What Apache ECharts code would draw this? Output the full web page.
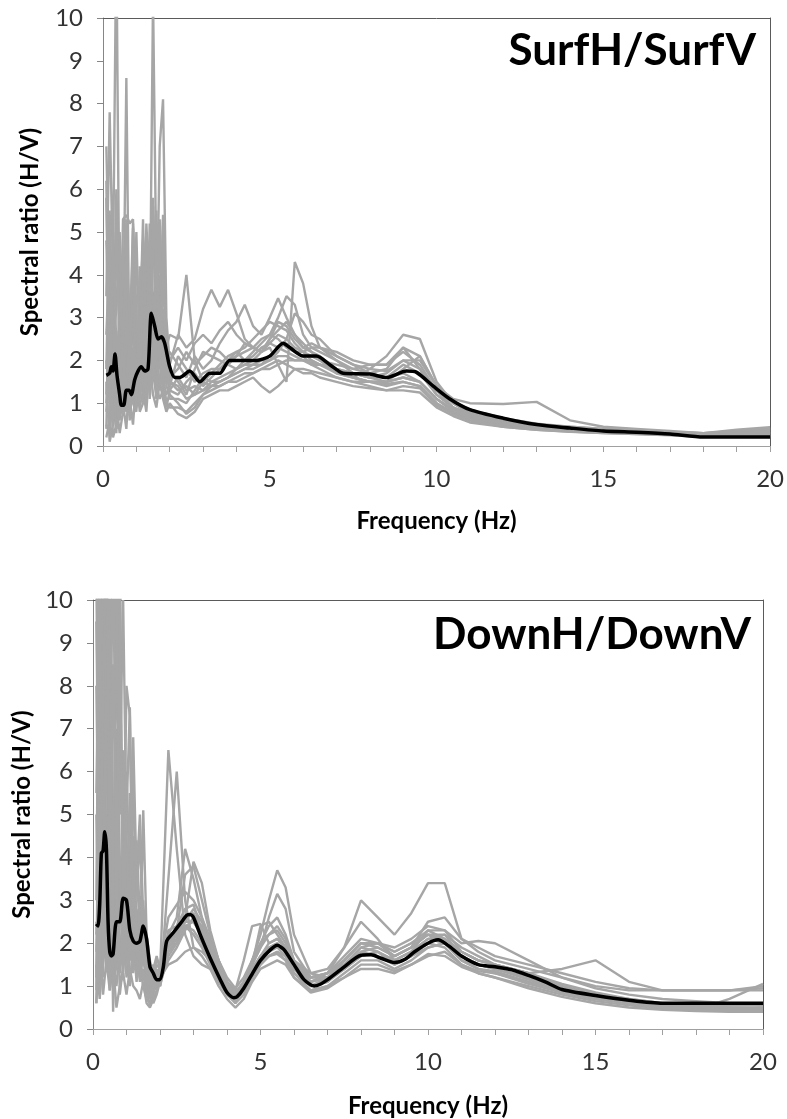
<!DOCTYPE html>
<html><head><meta charset="utf-8">
<script src="https://cdn.jsdelivr.net/npm/echarts@6.0.0/dist/echarts.min.js"></script>
<style>html,body{margin:0;padding:0;background:#fff}#c{width:787px;height:1119px}</style>
</head><body><div id="c"></div>
<script>
// ---------- axis / labels ----------
const panelTitles = ['SurfH/SurfV', 'DownH/DownV'];
const xAxisTitle = 'Frequency (Hz)';
const yAxisTitle = 'Spectral ratio (H/V)';
const xLabelValues = [0, 5, 10, 15, 20];

// ---------- top panel: SurfH/SurfV ----------
const surfFreqs = [0.1,0.2,0.3,0.4,0.5,0.6,0.7,0.8,0.9,1.0,1.1,1.2,1.3,1.4,1.5,1.6,1.7,1.8,1.9,2.0,
  2.25,2.5,2.75,3.0,3.25,3.5,3.75,4.0,4.25,4.5,4.75,5.0,5.25,5.5,5.75,6.0,6.25,6.5,
  7.0,7.5,8.0,8.5,9.0,9.5,10,10.5,11,12,13,14,15,16,17,18,19,20];
const surfRun01 = [3.5,7.8,4.0,12,2.1,3.0,1.8,2.5,1.6,2.2,3.1,1.9,2.7,4.5,2.0,2.8,3.5,1.9,2.4,1.6, 1.8,2.2,1.9,2.1,2.3,2.2,2.0,2.1,2.4,2.3,2.2,2.3,1.9,1.5,4.3,3.8,2.8,2.3, 2.1,1.9,1.8,1.75,2.0,1.8,1.3,0.9,0.75, 0.6,0.5,0.42,0.38,0.33,0.3,0.27,0.3,0.35];
const surfRun02 = [1.2,2.5,4.0,1.5,0.6,2.2,8.6,1.4,2.0,1.1,1.7,2.6,1.5,3.0,5.8,2.2,1.8,3.2,1.4,1.2, 1.0,0.75,0.9,1.2,1.4,1.5,1.6,1.8,1.9,2.0,2.2,2.5,2.7,2.9,2.6,2.4,2.2,2.0, 1.7,1.6,1.5,1.5,1.6,1.5,1.1,0.8,0.65, 0.5,0.42,0.36,0.33,0.3,0.27,0.24,0.22,0.22];
const surfRun03 = [0.5,0.3,2.0,6.0,3.5,1.2,0.8,1.9,2.8,1.3,2.2,1.5,3.8,2.5,10.5,4.0,2.1,1.6,2.3,2.6, 2.5,4.0,2.0,1.5,1.7,1.9,2.1,2.2,2.0,2.1,2.3,2.4,2.3,2.2,2.1,2.0,1.95,1.9, 1.8,1.6,1.5,1.4,1.5,1.4,1.0,0.75,0.6, 0.48,0.4,0.35,0.32,0.3,0.28,0.25,0.24,0.25];
const surfRun04 = [2.0,1.1,0.9,1.3,1.6,5.3,5.4,5.2,5.3,2.0,1.2,1.8,2.4,1.9,3.2,2.5,7.0,8.1,3.0,1.9, 2.6,2.3,2.5,3.2,3.65,3.25,3.65,3.1,2.5,2.3,2.2,2.4,2.6,2.5,2.3,2.2,2.1,2.0, 1.9,1.8,1.9,1.9,2.2,1.9,1.3,1.0,0.8, 0.62,0.5,0.45,0.4,0.36,0.33,0.3,0.33,0.38];
const surfRun05 = [4.8,2.2,1.0,0.4,1.5,2.8,1.2,0.9,3.6,1.8,1.1,2.3,1.4,4.8,2.1,1.5,2.0,5.3,2.1,1.5, 1.3,1.4,1.2,1.3,1.5,1.6,1.7,1.8,2.0,2.2,2.4,2.6,3.0,3.5,3.3,2.6,2.3,2.2, 2.0,1.7,1.6,1.7,2.0,2.0,1.4,1.1,1.0, 0.98,1.03,0.6,0.45,0.4,0.35,0.3,0.35,0.42];
const surfRun06 = [0.2,0.6,3.1,1.0,0.3,0.8,2.6,1.1,0.5,1.6,0.9,1.3,0.8,2.0,1.2,0.9,1.5,1.1,0.8,1.0, 0.75,0.65,0.8,1.1,1.2,1.3,1.3,1.4,1.5,1.6,1.4,1.25,1.4,1.6,1.8,1.8,1.75,1.7, 1.6,1.5,1.4,1.3,1.3,1.25,0.9,0.7,0.55, 0.45,0.38,0.33,0.3,0.28,0.26,0.22,0.22,0.22];
const surfRun07 = [7.0,3.5,1.5,2.7,1.2,4.6,1.8,2.4,5.2,1.5,3.0,4.8,2.1,1.6,5.6,2.3,1.3,2.2,1.8,2.2, 1.9,1.6,2.1,1.8,2.0,2.4,2.7,2.9,3.3,2.8,2.6,3.0,3.45,3.0,2.6,2.3,2.2,2.1, 1.8,1.7,1.6,1.6,1.9,1.7,1.2,0.9,0.7, 0.55,0.45,0.38,0.34,0.3,0.28,0.25,0.28,0.3];
const surfRun08 = [1.5,0.1,0.5,2.2,1.0,0.7,1.4,3.4,1.0,0.8,1.9,1.1,1.7,1.3,2.6,1.4,1.1,1.3,0.9,1.3, 1.6,1.3,1.4,1.3,1.4,1.5,1.6,1.7,1.8,1.9,1.9,2.0,2.1,2.1,2.0,2.0,1.9,1.9, 1.8,1.6,1.8,2.1,2.6,2.5,1.5,1.0,0.75, 0.55,0.45,0.4,0.35,0.32,0.3,0.27,0.3,0.32];
const surfRun09 = [0.8,1.9,0.2,0.5,3.8,1.4,2.0,0.6,1.5,2.7,1.4,2.0,4.6,1.5,1.9,3.4,2.6,1.5,1.2,1.4, 2.1,1.8,1.5,1.7,1.8,1.8,1.9,2.1,2.2,2.3,2.5,2.6,2.5,2.3,2.2,2.2,2.3,2.3, 2.0,1.8,1.7,1.6,1.7,1.5,1.1,0.85,0.7, 0.5,0.42,0.37,0.34,0.31,0.28,0.24,0.25,0.27];
const surfRun10 = [5.8,1.0,1.3,0.3,2.5,1.0,0.4,1.7,1.2,1.4,2.5,5.3,1.8,2.3,1.7,1.2,4.0,2.4,1.6,1.8, 1.5,1.2,1.8,2.2,2.1,2.0,1.9,1.8,1.9,1.9,2.0,2.0,2.2,2.5,3.1,2.9,2.6,2.5, 2.1,1.9,1.7,1.8,2.3,1.8,1.2,0.9,0.72, 0.58,0.48,0.4,0.36,0.33,0.3,0.27,0.28,0.3];
const surfRun11 = [2.6,4.5,0.7,1.8,0.9,3.4,1.0,1.3,2.2,0.9,4.2,2.6,1.0,2.8,3.6,1.9,1.4,2.8,1.9,1.1, 1.1,1.0,1.3,1.6,1.5,1.5,1.6,1.7,1.8,1.8,1.9,2.1,2.3,2.4,2.2,2.1,1.9,1.8, 1.6,1.5,1.5,1.45,1.5,1.4,1.0,0.78,0.65, 0.5,0.4,0.35,0.32,0.3,0.27,0.24,0.26,0.3];
const surfRun12 = [1.0,2.9,1.8,0.4,0.8,1.1,3.0,0.7,2.3,1.9,0.8,1.0,3.3,1.1,2.0,1.1,2.3,1.2,2.7,1.5, 1.4,1.1,1.2,1.5,1.4,1.4,1.5,1.6,1.7,1.7,1.8,1.8,1.9,2.0,2.0,2.0,2.0,1.9, 1.8,1.7,1.6,1.5,1.6,1.5,1.1,0.85,0.7, 0.52,0.45,0.38,0.34,0.31,0.29,0.26,0.3,0.34];
const surfRun13 = [1.8,5.5,2.4,3.2,5.0,1.6,5.3,2.0,4.1,1.4,2.6,3.8,5.0,2.4,4.4,5.5,2.2,5.4,2.5,1.3, 1.2,1.5,1.7,1.4,1.6,1.8,2.0,2.2,2.3,2.5,2.7,2.9,2.8,2.7,2.4,2.2,2.0,1.9, 1.7,1.6,1.5,1.5,1.8,2.1,1.4,1.0,0.8, 0.6,0.48,0.42,0.37,0.34,0.31,0.28,0.35,0.4];
const surfRun14 = [0.4,3.6,1.2,5.2,2.0,1.0,3.8,1.5,5.1,3.2,1.2,4.0,1.6,5.2,3.4,2.0,5.3,1.7,1.0,0.9, 0.9,0.8,1.0,1.2,1.3,1.4,1.5,1.5,1.6,1.7,1.8,1.9,2.0,1.9,1.8,1.7,1.7,1.6, 1.5,1.4,1.35,1.3,1.4,1.35,0.95,0.75,0.6, 0.45,0.38,0.34,0.3,0.28,0.25,0.22,0.24,0.26];
const surfRun15 = [6.2,0.9,5.0,2.3,1.3,2.5,4.4,3.0,1.1,5.0,2.0,1.4,5.2,3.5,1.5,4.8,2.0,4.2,1.6,2.0, 2.3,2.0,2.4,2.6,2.4,2.7,2.9,2.6,2.4,2.3,2.2,2.5,2.9,2.8,2.5,2.3,2.4,2.3, 2.2,2.0,1.9,1.9,2.3,2.1,1.4,1.05,0.85, 0.65,0.52,0.45,0.4,0.36,0.33,0.3,0.38,0.44];
const surfMeanFreqs = [0.1,0.2,0.25,0.3,0.36,0.42,0.5,0.55,0.62,0.7,0.78,0.85,0.95,1.05,1.15,1.25,1.35,1.45,1.55,1.65,
  1.75,1.85,2.0,2.15,2.3,2.6,2.9,3.2,3.5,3.8,4.6,5.0,5.4,5.6,6.0,6.4,6.8,7.2,8.0,8.5,
  9.1,9.4,9.9,10.4,11,12,13,14,15,16,17,18,19,20];
const surfMeanVals = [1.65,1.7,1.85,1.75,2.15,1.65,1.2,0.95,0.95,1.3,1.3,1.2,1.55,1.75,1.85,1.75,1.8,3.1,2.8,2.5,
  2.55,2.4,1.85,1.6,1.6,1.75,1.5,1.7,1.7,2.0,2.0,2.1,2.4,2.3,2.1,2.1,1.9,1.7,1.68,1.6,
  1.75,1.72,1.4,1.1,0.85,0.65,0.5,0.42,0.35,0.32,0.28,0.21,0.21,0.21];

// ---------- bottom panel: DownH/DownV ----------
const downFreqs = [0.1,0.2,0.3,0.4,0.5,0.6,0.7,0.8,0.9,1.0,1.1,1.2,1.3,1.4,1.5,1.6,1.7,1.8,1.9,2.0,
  2.25,2.5,2.75,3.0,3.25,3.5,3.75,4.0,4.25,4.5,4.75,5.0,5.25,5.5,5.75,6.0,
  6.5,7.0,7.5,8.0,8.5,9.0,9.5,10.0, 10.5,11,11.5,12, 13,14,15,16,17,18,19,20];
const downRun01 = [3.0,12,6.5,9.0,1.2,4.5,2.0,3.5,2.2,1.8,4.0,2.6,1.5,2.4,1.9,1.3,0.9,1.1,1.0,1.3, 6.5,4.2,2.2,1.7,1.5,1.4,1.2,0.9,0.7,0.9,1.2,1.5,1.7,1.8,1.6,1.3, 1.0,1.2,1.4,1.7,1.8,1.6,1.8,2.1, 2.2,1.7,1.5,1.4, 1.2,0.95,0.8,0.65,0.55,0.5,0.48,0.45];
const downRun02 = [0.6,5.5,11,3.5,2.8,1.5,7.0,2.5,3.8,2.5,1.6,3.0,2.0,1.3,2.4,0.9,0.55,0.8,1.2,1.0, 3.5,6.0,3.0,1.9,1.8,1.6,1.3,1.0,0.8,1.0,1.4,1.7,2.0,2.1,1.9,1.4, 1.0,1.1,1.5,1.9,1.8,1.5,1.7,1.9, 2.0,1.6,1.4,1.35, 1.1,0.9,0.75,0.6,0.5,0.45,0.42,0.42];
const downRun03 = [8.0,2.2,4.0,10.5,6.0,0.4,3.2,2.5,3.0,8.0,7.3,1.7,2.8,1.9,1.6,1.2,0.8,1.4,1.7,1.4, 2.2,2.6,4.2,3.5,2.6,1.9,1.4,1.0,0.6,1.0,1.6,2.2,3.0,3.7,3.3,2.2, 1.3,1.2,1.6,2.0,2.0,1.8,2.0,2.3, 2.3,1.8,1.6,1.5, 1.3,1.0,0.8,0.7,0.6,0.55,0.55,0.55];
const downRun04 = [1.8,4.0,2.0,1.5,12,3.5,1.4,2.6,4.5,6.0,3.3,5.8,2.1,1.5,5.1,2.2,1.6,1.1,0.9,1.4, 1.9,2.1,2.6,3.9,3.4,2.3,1.6,1.1,0.8,1.1,1.5,1.9,2.6,3.15,2.8,1.8, 1.2,1.3,1.5,1.9,2.0,1.9,2.1,2.4, 2.3,2.0,2.05,2.0, 1.6,1.2,0.95,0.8,0.7,0.65,0.6,0.58];
const downRun05 = [2.5,1.0,3.5,7.0,2.0,1.0,2.4,1.5,3.0,1.7,2.5,1.6,1.3,3.1,1.8,1.5,1.3,0.9,1.1,1.5, 2.0,2.3,2.5,2.5,2.2,1.7,1.3,0.9,0.75,0.95,1.3,1.6,1.8,1.9,1.7,1.4, 1.2,1.3,1.9,3.0,2.6,2.2,2.7,3.4, 3.4,2.1,1.9,1.7, 1.5,1.3,1.1,0.95,0.9,0.9,0.9,0.95];
const downRun06 = [1.5,0.7,1.8,4.5,2.3,1.6,1.0,1.8,2.5,1.2,1.8,2.2,1.1,1.6,1.2,1.0,0.8,1.0,1.3,1.2, 2.3,2.4,2.8,2.9,2.3,1.8,1.4,1.0,0.8,1.1,1.6,2.0,2.2,2.3,2.0,1.6, 1.3,1.4,1.9,2.5,2.1,1.6,1.8,2.3, 2.1,1.8,1.6,1.5, 1.3,1.4,1.6,1.1,0.9,0.9,0.9,1.0];
const downRun07 = [0.6,2.0,0.8,1.6,0.9,1.5,0.5,1.0,1.3,0.8,1.4,1.0,0.9,0.7,1.1,0.6,0.5,0.7,0.9,1.2, 1.5,1.6,1.8,1.9,1.7,1.4,1.0,0.7,0.5,0.7,1.1,1.4,1.5,1.6,1.5,1.2, 0.9,1.0,1.2,1.4,1.4,1.3,1.5,1.7, 1.8,1.5,1.3,1.2, 1.0,0.8,0.65,0.55,0.48,0.45,0.42,0.42];
const downRun08 = [10.5,3.0,1.5,2.8,0.9,3.0,1.8,12,2.0,1.5,3.8,1.3,2.0,1.1,1.4,0.8,1.2,1.5,1.1,1.1, 2.0,2.2,2.6,2.7,2.3,1.9,1.5,1.1,0.9,1.6,2.4,2.45,2.0,2.1,1.9,1.5, 1.1,1.2,1.5,1.8,1.7,1.5,1.7,2.0, 1.9,1.5,1.35,1.3, 1.1,0.85,0.7,0.6,0.5,0.45,0.45,0.5];
const downRun09 = [1.2,8.5,2.5,5.0,1.6,2.2,4.8,0.8,1.5,3.5,1.2,1.5,4.4,2.6,1.5,1.8,1.4,1.2,1.5,1.4, 1.8,2.0,2.4,2.3,2.0,1.6,1.3,0.9,0.65,0.9,1.3,1.6,1.7,1.8,1.7,1.3, 0.9,1.0,1.3,1.6,1.6,1.4,1.6,1.9, 2.0,1.6,1.4,1.3, 1.05,0.85,0.7,0.6,0.5,0.45,0.7,1.05];
const downRun10 = [2.2,3.3,9.0,1.4,3.2,0.9,1.5,3.0,1.8,2.3,1.0,2.0,1.5,1.8,2.4,1.4,1.0,0.6,0.8,1.1, 1.6,1.9,2.3,2.6,2.4,2.0,1.5,1.1,0.85,1.1,1.4,1.7,1.9,2.0,1.8,1.5, 1.2,1.2,1.4,1.8,1.9,1.7,1.9,2.2, 2.0,1.7,1.5,1.4, 1.2,1.0,0.8,0.65,0.55,0.5,0.5,0.48];
const downRun11 = [0.9,6.0,1.2,12,3.5,2.0,9.5,4.0,1.2,2.8,1.6,4.5,1.8,1.2,1.7,1.1,0.9,1.3,1.6,1.5, 2.6,2.9,3.2,3.0,2.6,2.1,1.6,1.2,0.95,1.2,1.6,2.0,2.4,2.6,2.2,1.6, 1.1,1.3,1.7,2.1,2.0,1.7,1.9,2.5, 2.6,2.1,1.8,1.6, 1.4,1.2,1.0,0.9,0.9,0.9,0.9,0.9];
const downRun12 = [5.0,1.5,4.0,2.2,6.5,1.8,3.0,1.3,2.0,4.2,2.0,1.5,2.5,1.4,1.0,0.7,0.6,0.9,1.4,1.0, 1.9,2.2,2.4,2.2,1.9,1.5,1.1,0.8,0.6,0.8,1.2,1.5,1.7,1.75,1.6,1.2, 0.85,0.95,1.2,1.5,1.5,1.35,1.5,1.75, 1.7,1.45,1.3,1.2, 0.95,0.75,0.6,0.5,0.45,0.42,0.4,0.4];
const downRun13 = [12,4.0,12,6.0,9.0,2.5,11,5.0,6.5,2.0,5.5,3.0,4.0,2.0,3.0,1.5,1.0,1.2,1.3,1.2, 2.0,2.3,3.6,3.8,3.0,2.2,1.6,1.1,0.7,1.0,1.5,1.9,2.2,2.4,2.1,1.6, 1.2,1.3,1.6,2.0,1.9,1.7,1.9,2.2, 2.2,1.9,1.7,1.5, 1.3,1.0,0.8,0.65,0.55,0.5,0.48,0.46];
const downRun14 = [5.5,10.5,3.0,8.0,4.5,12,2.5,6.0,10,4.5,1.8,6.8,3.5,5.0,2.6,2.0,1.2,0.9,1.0,1.1, 1.7,2.0,2.5,2.8,2.5,2.0,1.5,1.0,0.7,1.0,1.5,2.4,2.5,2.2,1.9,1.5, 1.1,1.2,1.6,2.0,2.0,1.8,2.0,2.2, 2.1,1.8,1.6,1.5, 1.3,1.05,0.85,0.7,0.6,0.55,0.5,0.5];
const downRun15 = [9.5,3.0,7.5,12,3.5,8.5,4.0,9.0,3.0,5.0,7.5,2.8,3.2,4.5,1.8,1.3,0.7,1.0,1.2,1.0, 1.8,2.1,2.4,2.5,2.2,1.8,1.4,0.95,0.7,0.9,1.3,1.7,1.9,2.0,1.8,1.4, 1.0,1.1,1.4,1.7,1.8,1.6,1.8,2.1, 2.0,1.7,1.5,1.4, 1.15,0.9,0.75,0.6,0.5,0.45,0.44,0.44];
const downMeanFreqs = [0.1,0.15,0.2,0.25,0.3,0.35,0.4,0.45,0.5,0.55,0.6,0.7,0.8,0.9,1.0,1.1,1.2,1.3,1.4,1.5,
  1.6,1.7,1.8,1.9,2.0,2.1,2.2,2.4,2.6,2.8,2.9,3.0,3.2,3.5,3.8,4.0,4.2,4.3,4.5,4.8,
  5.0,5.3,5.5,5.7,6.0,6.3,6.6,6.8,7.0,7.5,8.0,8.3,8.6,9.0,9.3,9.6,10.0,10.3,10.6,11.0,
  11.5,12.0,12.5,13.0,13.5,14.0,15,16,17,18,19,20];
const downMeanVals = [2.45,2.4,2.9,4.1,4.15,4.6,4.2,2.5,1.8,1.7,1.75,2.5,2.5,3.05,3.0,2.3,2.05,2.0,2.05,2.4,
  2.1,1.45,1.3,1.15,1.15,1.45,2.05,2.25,2.45,2.65,2.67,2.6,2.2,1.65,1.15,0.85,0.73,0.75,0.95,1.35,
  1.6,1.85,1.95,1.85,1.5,1.15,1.0,1.05,1.15,1.45,1.72,1.73,1.65,1.55,1.62,1.8,2.0,2.08,1.95,1.7,
  1.5,1.45,1.38,1.25,1.1,0.92,0.78,0.67,0.6,0.6,0.6,0.6];

const surfRuns = [surfRun01,surfRun02,surfRun03,surfRun04,surfRun05,surfRun06,surfRun07,surfRun08,
  surfRun09,surfRun10,surfRun11,surfRun12,surfRun13,surfRun14,surfRun15];
const downRuns = [downRun01,downRun02,downRun03,downRun04,downRun05,downRun06,downRun07,downRun08,
  downRun09,downRun10,downRun11,downRun12,downRun13,downRun14,downRun15];

// ---------- build ----------
const FONT = 'Lato, Carlito, "Open Sans", sans-serif';
const GREY = '#a6a6a6';
const pairs = (xs, ys) => xs.map((x, i) => [x, ys[i]]);

function panelSeries(freqs, runs, mf, mv, gi) {
  const out = runs.map(r => ({
    type: 'line', xAxisIndex: gi * 2, yAxisIndex: gi * 2,
    data: pairs(freqs, r), showSymbol: false, silent: true, clip: true,
    lineStyle: { color: GREY, width: 2.4 }, z: 2
  }));
  out.push({
    type: 'line', xAxisIndex: gi * 2, yAxisIndex: gi * 2,
    data: pairs(mf, mv), showSymbol: false, silent: true, clip: true, smooth: 0.25,
    lineStyle: { color: '#000', width: 3.5 }, z: 5
  });
  return out;
}

function xAxes(gi, nameGap) {
  return [{
    gridIndex: gi, type: 'value', min: 0, max: 20, interval: 1, position: 'bottom',
    axisLine: { show: true, onZero: false, lineStyle: { color: '#a0a0a0', width: 1 } },
    axisTick: { show: true, length: 6, lineStyle: { color: '#a0a0a0' } },
    axisLabel: { margin: 21, fontSize: 24, color: '#333', fontFamily: FONT,
      formatter: v => (xLabelValues.indexOf(v) >= 0 ? String(v) : '') },
    splitLine: { show: false },
    name: xAxisTitle, nameLocation: 'middle', nameGap: nameGap,
    nameTextStyle: { fontFamily: FONT, fontWeight: 'bold', fontSize: 24, color: '#000' }
  }, {
    gridIndex: gi, type: 'value', min: 0, max: 20, position: 'top',
    axisLine: { show: true, onZero: false, lineStyle: { color: '#5a5a5a', width: 1 } },
    axisTick: { show: false }, axisLabel: { show: false }, splitLine: { show: false }
  }];
}
function yAxes(gi, nameGap) {
  return [{
    gridIndex: gi, type: 'value', min: 0, max: 10, interval: 1, position: 'left',
    axisLine: { show: true, onZero: false, lineStyle: { color: '#868686', width: 1 } },
    axisTick: { show: true, length: 6, lineStyle: { color: '#868686' } },
    axisLabel: { margin: 20, fontSize: 24, color: '#333', fontFamily: FONT },
    splitLine: { show: false },
    name: yAxisTitle, nameLocation: 'middle', nameGap: nameGap, nameRotate: 90,
    nameTextStyle: { fontFamily: FONT, fontWeight: 'bold', fontSize: 24, color: '#000' }
  }, {
    gridIndex: gi, type: 'value', min: 0, max: 10, position: 'right',
    axisLine: { show: true, onZero: false, lineStyle: { color: '#5a5a5a', width: 1 } },
    axisTick: { show: false }, axisLabel: { show: false }, splitLine: { show: false }
  }];
}

const chart = echarts.init(document.getElementById('c'), null, { renderer: 'canvas' });
chart.setOption({
  backgroundColor: '#fff',
  animation: false,
  title: [
    { text: panelTitles[0], right: 26, top: 24,
      textStyle: { fontFamily: FONT, fontWeight: 'bold', fontSize: 44, color: '#000' } },
    { text: panelTitles[1], right: 31, top: 608,
      textStyle: { fontFamily: FONT, fontWeight: 'bold', fontSize: 44, color: '#000' } }
  ],
  grid: [
    { left: 103, top: 18, width: 670, height: 428 },
    { left: 93, top: 600, width: 670, height: 430 }
  ],
  xAxis: [...xAxes(0, 63), ...xAxes(1, 65)],
  yAxis: [...yAxes(0, 61), ...yAxes(1, 59)],
  series: [
    ...panelSeries(surfFreqs, surfRuns, surfMeanFreqs, surfMeanVals, 0),
    ...panelSeries(downFreqs, downRuns, downMeanFreqs, downMeanVals, 1)
  ]
});
</script>
</body></html>
